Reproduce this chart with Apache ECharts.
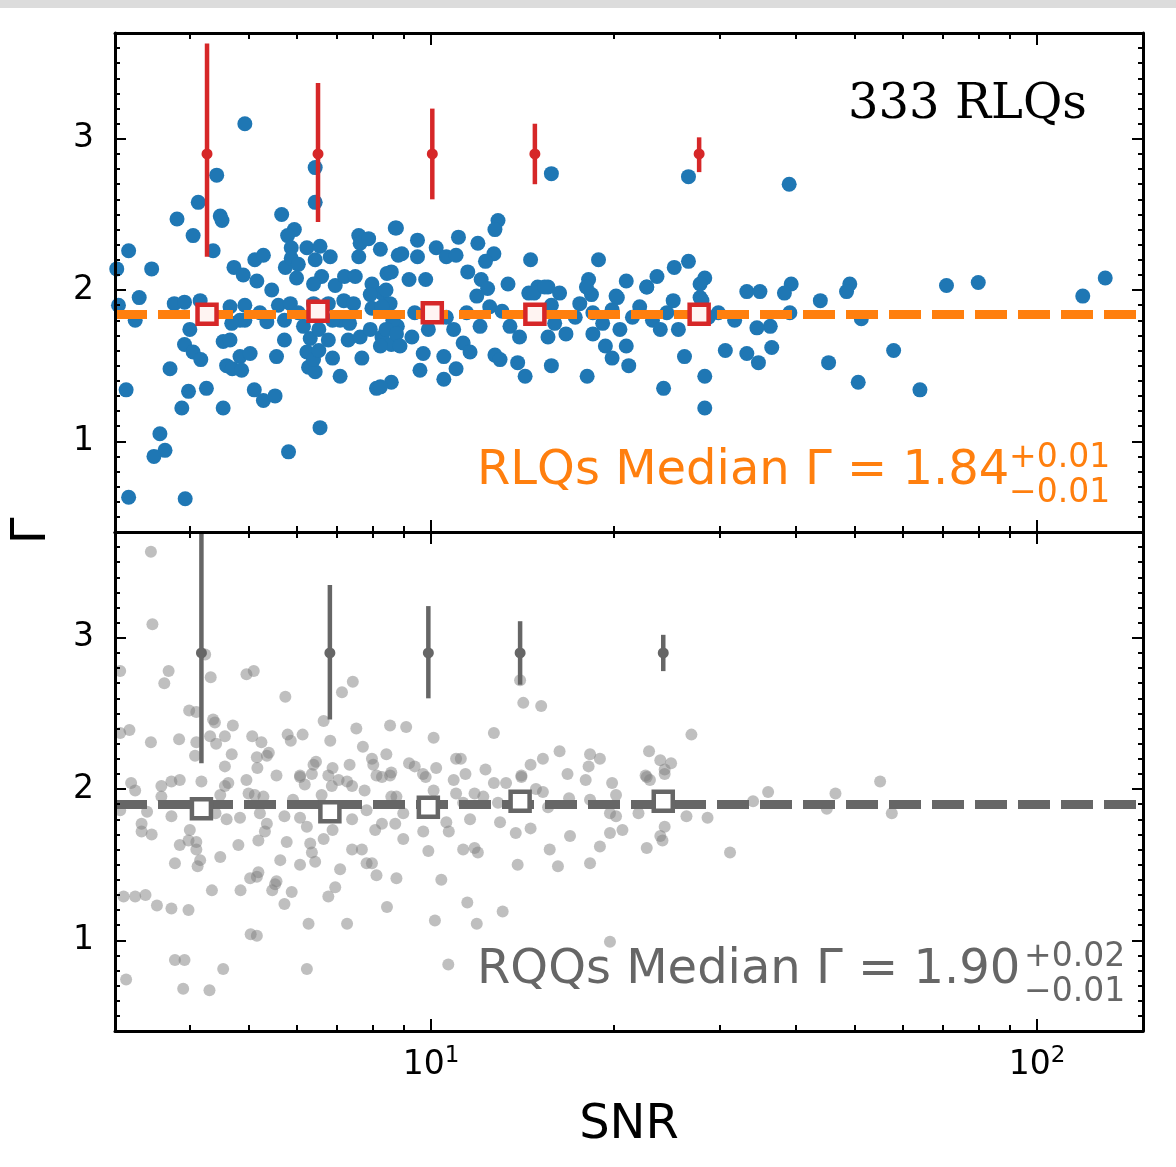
<!DOCTYPE html>
<html><head><meta charset="utf-8">
<script src="https://cdn.jsdelivr.net/npm/echarts@6/dist/echarts.min.js"></script>
<style>html,body{margin:0;padding:0;background:#fff;}#c{width:1176px;height:1167px;}</style>
</head><body><div id="c"></div>
<script>
// ---- RLQs (top panel) ----
const rlqSnr = [4.93,4.43,6.44,6.44,4.13,3.81,4.49,4.52,4.05,5.67,5.95,5.80,4.37,3.17,3.46,3.03,4.73,4.90,5.12,5.29,5.16,5.46,5.75,5.88,5.88,6.04,6.00,6.24,6.44,6.56,6.82,6.60,6.40,6.95,7.20,7.50,7.60,7.64,7.89,7.60,8.25,7.99,8.46,8.73,8.83,8.30,
3.30,3.25,3.05,3.77,3.92,4.16,4.00,3.92,4.05,4.17,3.71,3.14,3.98,4.26,3.88,3.57,3.64,3.49,3.17,3.93,4.54,4.66,4.54,4.66,4.60,4.70,4.84,4.87,4.93,5.03,4.93,5.11,5.29,5.53,5.36,5.56,5.73,5.60,5.86,5.82,6.56,6.16,6.24,6.28,6.44,6.40,6.53,6.32,6.53,6.77,6.88,7.08,7.08,7.30,7.69,7.64,7.99,8.13,8.60,8.30,8.60,8.80,
6.40,6.77,7.18,7.45,7.94,8.56,6.88,7.34,7.94,8.25,6.04,5.73,5.22,4.84,4.69,
15.8,26.6,8.77,9.50,8.95,9.50,10.2,10.6,11.1,11.0,12.9,12.75,12.7,8.60,9.20,9.80,11.5,12.1,12.4,13.4,14.6,14.5,15.0,15.6,16.3,18.2,18.9,21.0,22.7,23.6,25.2,26.6,28.3,33.2,34.9,18.4,20.3,27.8,11.95,12.3,
39.0,39.3,38.3,43.9,49.1,48.5,70.9,80.0,129.6,119.0,
39.1,36.3,36.5,45.3,50.7,51.3,58.0,64.1,
9.71,9.59,10.5,10.5,11.0,8.25,12.75,13.0,13.9,14.3,15.8,15.6,18.1,18.5,19.4,19.9,21.2,21.0,24.2,26.2,28.3,28.3,30.6,33.2,34.7,34.5,29.8,28.0,
8.43,8.30,8.65,8.43,8.77,8.89,9.40,9.30,9.90,10.6,10.9,11.3,11.6,11.45,12.05,11.9,12.5,13.1,13.5,14.0,14.8,15.4,15.8,16.0,16.7,17.3,17.6,18.05,18.5,19.2,19.9,20.2,20.5,21.5,22.1,22.7,23.2,23.9,24.5,25.1,25.6,27.8,28.7,31.7];
const rlqGamma = [3.10,2.76,2.81,2.58,2.58,2.47,2.49,2.46,2.36,2.50,2.40,2.36,2.26,2.26,2.14,2.14,2.15,2.10,2.20,2.23,2.06,2.00,2.15,2.28,2.21,2.17,2.08,2.28,2.20,2.29,2.22,2.09,2.04,2.03,2.09,2.09,2.36,2.31,2.34,2.22,2.27,2.04,2.11,2.41,2.23,1.98,
1.95,1.80,1.90,1.91,1.92,1.93,1.74,1.64,1.59,1.54,1.48,1.34,1.33,1.35,1.22,1.05,0.94,0.90,0.63,0.62,1.22,1.89,1.66,1.67,1.50,1.48,1.56,1.47,1.80,1.58,1.90,1.34,1.27,1.30,1.79,1.56,1.67,1.90,1.91,0.93,1.09,1.76,1.59,1.49,1.46,1.54,1.60,1.68,1.74,1.67,1.55,1.43,1.80,1.67,1.55,1.69,1.88,1.35,1.39,1.69,1.64,1.76,
1.91,1.91,1.93,1.91,1.97,1.91,1.80,1.78,1.74,1.63,1.85,1.80,1.85,1.80,1.78,
2.77,2.75,2.41,2.33,2.24,2.22,2.28,2.22,2.35,2.23,2.46,2.40,2.24,2.12,2.07,2.07,2.12,2.07,2.01,2.04,2.20,1.98,2.02,2.02,1.98,2.07,2.20,2.06,2.02,2.09,2.15,2.19,2.08,1.99,1.99,1.97,1.95,1.95,2.31,2.19,
2.70,2.04,1.98,1.93,2.04,1.99,2.03,2.05,2.08,1.96,
1.85,1.76,1.62,1.52,1.39,1.81,1.60,1.34,
1.58,1.47,1.56,1.41,1.48,1.36,1.57,1.54,1.52,1.43,1.50,1.69,1.43,1.71,1.63,1.55,1.50,1.63,1.35,1.56,1.43,1.22,1.60,1.58,1.52,1.75,1.85,1.93,
2.00,1.89,1.80,1.74,1.71,1.63,1.85,1.69,1.74,1.82,1.74,1.65,1.59,1.85,1.76,1.96,1.89,1.86,1.76,1.69,1.98,2.02,1.90,1.78,1.71,1.82,1.91,2.02,1.85,1.78,1.87,1.96,1.74,1.82,1.89,2.02,1.80,1.74,1.85,1.93,1.74,2.04,1.82,1.80];

// ---- RQQs (bottom panel) ----
const rqqSnr = [3.45,3.47,3.07,3.69,3.63,4.33,4.24,4.96,5.10,5.75,7.13,7.43,6.65,6.82,7.53,8.56,3.99,4.10,4.37,4.40,4.71,3.18,3.07,3.45,3.84,4.32,4.57,4.42,4.10,5.07,5.25,5.80,5.87,6.14,4.08,4.69,5.16,5.40,5.36,4.57,5.17,7.72,8.44,7.99,8.03,7.34,6.40,6.46,5.56,6.08,6.77,6.88,
3.20,3.25,3.07,3.33,3.33,3.46,3.40,3.59,3.59,3.73,3.85,3.73,4.18,4.49,4.57,4.63,4.60,4.41,4.00,3.85,3.98,4.10,4.10,3.78,4.16,4.12,4.49,4.81,4.84,4.96,5.00,5.12,5.29,5.22,5.36,5.32,5.19,5.03,5.16,5.19,4.85,4.35,5.53,5.56,5.47,5.73,5.89,5.64,5.78,5.73,5.92,6.08,6.19,6.36,6.60,6.86,7.04,6.08,6.24,6.32,6.36,6.44,6.08,6.65,6.88,7.08,6.95,6.77,6.28,7.27,6.24,5.04,5.16,3.78,3.92,4.54,3.14,3.90,4.31,3.11,3.25,3.38,3.53,3.73,3.98,7.41,7.41,7.69,7.83,7.99,8.13,8.46,8.77,7.83,8.09,8.30,8.73,8.13,8.56,7.27,7.41,7.77,8.60,
10.15,10.4,11.48,11.9,13.13,10.68,19.74,9.90,11.3,11.8,11.95,13.9,16.2,15.7,18.3,19.0,19.74,20.7,16.96,14.6,13.8,9.00,9.71,10.6,10.7,11.6,13.0,15.3,15.6,16.9,18.3,20.2,20.2,19.74,22.7,22.98,24.3,22.0,22.7,23.9,24.3,24.1,26.4,28.6,31.15,34.0,36.0,8.30,8.77,9.00,9.80,10.1,10.9,11.0,11.3,11.8,12.2,12.7,12.9,13.3,14.1,14.1,14.9,16.8,18.0,19.9,
14.03,14.2,15.2,26.9,9.10,10.1,12.7,9.20,9.40,9.70,10.2,11.0,11.2,11.4,12.3,8.60,14.6,15.3,16.3,18.3,18.2,19.0,22.9,23.9,24.9,24.3,22.6,14.1,
45.0,46.5,55.1,57.6];
const rqqGamma = [3.57,3.09,2.78,2.78,2.70,2.74,2.89,2.76,2.78,2.61,2.64,2.71,2.45,2.32,2.40,2.42,2.52,2.51,2.46,2.44,2.42,2.39,2.37,2.31,2.33,2.35,2.35,2.30,2.31,2.35,2.31,2.36,2.32,2.36,2.22,2.23,2.21,2.24,2.22,2.15,2.14,2.28,2.23,2.20,2.16,2.16,2.16,2.18,2.09,2.09,2.09,2.14,
2.04,1.99,1.86,1.77,1.72,1.70,1.85,2.02,1.95,2.05,2.06,1.82,2.05,1.96,2.02,2.04,1.80,1.84,1.73,1.63,1.66,1.65,1.60,1.51,1.53,1.49,1.55,1.63,1.81,2.06,1.97,1.96,1.95,1.84,1.77,1.72,1.66,1.41,1.42,1.45,1.33,1.33,1.37,1.39,1.33,1.24,1.32,1.53,1.65,1.82,1.93,2.08,2.03,2.10,1.96,2.02,2.06,1.81,1.75,1.64,1.58,1.52,1.50,1.67,1.73,1.47,1.35,1.29,1.11,1.11,0.81,1.04,1.03,0.87,0.87,0.81,0.74,0.68,0.67,1.29,1.29,1.30,1.23,1.21,1.20,1.80,1.60,1.60,1.51,1.51,1.43,1.22,1.41,1.86,1.73,1.77,1.77,2.09,2.09,2.05,2.02,1.99,1.95,
1.13,1.40,1.25,1.11,1.19,0.84,0.99,1.59,1.60,1.61,1.58,1.50,1.49,1.60,1.51,1.62,1.71,1.73,1.69,1.74,1.71,1.67,1.72,1.78,1.72,1.80,1.78,1.98,1.88,1.94,1.93,1.96,1.82,1.84,2.08,2.06,2.10,1.84,1.61,1.69,1.75,1.66,1.82,1.81,1.58,1.92,1.98,2.08,1.95,1.84,2.08,1.99,2.06,1.97,1.91,1.97,1.95,2.04,1.91,2.04,2.08,1.91,2.00,2.10,2.06,2.04,
2.72,2.57,2.55,2.36,2.41,2.34,2.37,2.17,2.15,2.10,2.14,2.20,2.20,2.10,2.13,2.11,2.16,2.20,2.25,2.23,2.15,2.20,2.25,2.19,2.17,2.13,2.09,2.09,
1.87,1.97,2.05,1.84];

// ---- binned medians and error bars ----
const rlqBinSnr = [4.27, 6.51, 10.05, 14.84, 27.7];
const rlqBinMedian = [1.84, 1.86, 1.85, 1.84, 1.84];
const rlqErrCenter = [2.9, 2.9, 2.9, 2.9, 2.9];
const rlqErrLow = [2.22, 2.45, 2.60, 2.70, 2.78];
const rlqErrHigh = [3.63, 3.37, 3.20, 3.10, 3.01];
const rqqBinSnr = [4.18, 6.81, 9.90, 14.03, 24.17];
const rqqBinMedian = [1.87, 1.85, 1.88, 1.92, 1.92];
const rqqErrCenter = [2.9, 2.9, 2.9, 2.9, 2.9];
const rqqErrLow = [2.17, 2.46, 2.60, 2.69, 2.78];
const rqqErrHigh = [3.70, 3.35, 3.21, 3.11, 3.02];
const rlqMedian = 1.84;
const rqqMedian = 1.90;

// ---- axes ----
const xMin = 3.01, xMax = 149.6, yMin = 0.4, yMax = 3.7;
const xTickMajor = [10, 100];
const xTickExp = ['1', '2'];
const xTickMinor = [3,4,5,6,7,8,9,20,30,40,50,60,70,80,90];
const yTickMajor = [1, 2, 3];
const yTickMinor = [0.5,0.6,0.7,0.8,0.9,1.1,1.2,1.3,1.4,1.5,1.6,1.7,1.8,1.9,2.1,2.2,2.3,2.4,2.5,2.6,2.7,2.8,2.9,3.1,3.2,3.3,3.4,3.5,3.6];

const FONT = 'DejaVu Sans';
const zip = (a, b) => a.map((v, i) => [v, b[i]]);

function xAx(grid, pos, major, withLabel) {
  return {
    type: 'log', logBase: 10, gridIndex: grid, position: pos, min: xMin, max: xMax, z: 10,
    axisLine: { show: major, onZero: false, lineStyle: { color: '#000', width: 3 } },
    splitLine: { show: false }, minorTick: { show: false }, minorSplitLine: { show: false },
    axisTick: { show: true, inside: true, length: major ? 12 : 6, customValues: major ? xTickMajor : xTickMinor,
      lineStyle: { color: '#000', width: 2 } },
    axisLabel: withLabel ? {
      show: true, customValues: xTickMajor, margin: 14, color: '#000', fontFamily: FONT,
      formatter: function (v) { const i = xTickMajor.indexOf(Math.round(v)); return '{b|10}{s|' + xTickExp[i] + '}'; },
      rich: { b: { fontSize: 33, fontFamily: FONT, color: '#000', lineHeight: 40 },
              s: { fontSize: 23, fontFamily: FONT, color: '#000', verticalAlign: 'top' } }
    } : { show: false }
  };
}
function yAx(grid, pos, major, withLabel) {
  return {
    type: 'value', gridIndex: grid, position: pos, min: yMin, max: yMax, z: 10,
    axisLine: { show: major, onZero: false, lineStyle: { color: '#000', width: 3 } },
    splitLine: { show: false }, minorTick: { show: false },
    axisTick: { show: true, inside: true, length: major ? 11 : 5, customValues: major ? yTickMajor : yTickMinor,
      lineStyle: { color: '#000', width: 2 } },
    axisLabel: withLabel ? { show: true, customValues: yTickMajor, margin: 21, fontSize: 33, fontFamily: FONT,
      color: '#000', padding: [10, 0, 0, 0] } : { show: false }
  };
}

const xAxis = [
  xAx(0, 'bottom', true, false), xAx(0, 'bottom', false, false), xAx(0, 'top', true, false), xAx(0, 'top', false, false),
  xAx(1, 'bottom', true, true), xAx(1, 'bottom', false, false), xAx(1, 'top', true, false), xAx(1, 'top', false, false)
];
const yAxis = [
  yAx(0, 'left', true, true), yAx(0, 'left', false, false), yAx(0, 'right', true, false), yAx(0, 'right', false, false),
  yAx(1, 'left', true, true), yAx(1, 'left', false, false), yAx(1, 'right', true, false), yAx(1, 'right', false, false)
];

function errSeries(xi, yi, snr, c, lo, hi, color) {
  return {
    type: 'custom', xAxisIndex: xi, yAxisIndex: yi, z: 6, silent: true,
    encode: { x: 0, y: [1, 2, 3] },
    data: snr.map((s, i) => [s, c[i], lo[i], hi[i]]),
    renderItem: function (params, api) {
      const x = api.value(0);
      const p1 = api.coord([x, api.value(2)]);
      const p2 = api.coord([x, api.value(3)]);
      const pc = api.coord([x, api.value(1)]);
      return { type: 'group', children: [
        { type: 'line', shape: { x1: p1[0], y1: p1[1], x2: p2[0], y2: p2[1] }, style: { stroke: color, lineWidth: 4.5 } },
        { type: 'circle', shape: { cx: pc[0], cy: pc[1], r: 5.5 }, style: { fill: color } }
      ] };
    }
  };
}

const series = [
  { type: 'scatter', xAxisIndex: 0, yAxisIndex: 0, z: 2, silent: true, symbolSize: 15,
    itemStyle: { color: '#1f77b4', opacity: 1 }, data: zip(rlqSnr, rlqGamma),
    markLine: { silent: true, symbol: 'none', z: 4, label: { show: false }, animation: false,
      lineStyle: { color: '#ff7f0e', width: 9, type: [32, 11], opacity: 1 },
      emphasis: { disabled: true }, data: [{ yAxis: rlqMedian }] } },
  errSeries(0, 0, rlqBinSnr, rlqErrCenter, rlqErrLow, rlqErrHigh, '#d62728'),
  { type: 'scatter', xAxisIndex: 0, yAxisIndex: 0, z: 7, silent: true, symbol: 'rect', symbolSize: 19,
    itemStyle: { color: '#fff4f2', borderColor: '#d62728', borderWidth: 4.5, opacity: 1 },
    data: zip(rlqBinSnr, rlqBinMedian) },

  { type: 'scatter', xAxisIndex: 4, yAxisIndex: 4, z: 2, silent: true, symbolSize: 12,
    itemStyle: { color: '#808080', opacity: 0.5 }, data: zip(rqqSnr, rqqGamma),
    markLine: { silent: true, symbol: 'none', z: 4, label: { show: false }, animation: false,
      lineStyle: { color: '#666666', width: 9, type: [32, 11], opacity: 1 },
      emphasis: { disabled: true }, data: [{ yAxis: rqqMedian }] } },
  errSeries(4, 4, rqqBinSnr, rqqErrCenter, rqqErrLow, rqqErrHigh, '#666666'),
  { type: 'scatter', xAxisIndex: 4, yAxisIndex: 4, z: 7, silent: true, symbol: 'rect', symbolSize: 19,
    itemStyle: { color: '#ffffff', borderColor: '#666666', borderWidth: 4.5, opacity: 1 },
    data: zip(rqqBinSnr, rqqBinMedian) }
];

const graphic = [
  { type: 'rect', shape: { x: 0, y: 0, width: 1176, height: 8 }, style: { fill: '#dcdcdc' }, silent: true },
  { type: 'text', x: 848, y: 106, silent: true, z: 20,
    style: { text: '333 RLQs', font: '48px "DejaVu Serif"', fill: '#000', textAlign: 'left', textVerticalAlign: 'middle' } },
  { type: 'text', x: 477, y: 472, silent: true, z: 20,
    style: { text: 'RLQs Median Γ = 1.84', font: '48px "DejaVu Sans"', fill: '#ff7f0e', textAlign: 'left', textVerticalAlign: 'middle' } },
  { type: 'text', x: 1009, y: 458, silent: true, z: 20,
    style: { text: '+0.01', font: '33px "DejaVu Sans"', fill: '#ff7f0e', textAlign: 'left', textVerticalAlign: 'middle' } },
  { type: 'text', x: 1009, y: 493, silent: true, z: 20,
    style: { text: '\u22120.01', font: '33px "DejaVu Sans"', fill: '#ff7f0e', textAlign: 'left', textVerticalAlign: 'middle' } },
  { type: 'text', x: 477, y: 971, silent: true, z: 20,
    style: { text: 'RQQs Median Γ = 1.90', font: '48px "DejaVu Sans"', fill: '#666666', textAlign: 'left', textVerticalAlign: 'middle' } },
  { type: 'text', x: 1024, y: 957, silent: true, z: 20,
    style: { text: '+0.02', font: '33px "DejaVu Sans"', fill: '#666666', textAlign: 'left', textVerticalAlign: 'middle' } },
  { type: 'text', x: 1024, y: 992, silent: true, z: 20,
    style: { text: '\u22120.01', font: '33px "DejaVu Sans"', fill: '#666666', textAlign: 'left', textVerticalAlign: 'middle' } },
  { type: 'text', x: 629, y: 1126, silent: true, z: 20,
    style: { text: 'SNR', font: '48px "DejaVu Sans"', fill: '#000', textAlign: 'center', textVerticalAlign: 'middle' } },
  { type: 'text', x: 33, y: 531, rotation: Math.PI / 2, silent: true, z: 20,
    style: { text: 'Γ', font: '48px "DejaVu Sans"', fill: '#000', textAlign: 'center', textVerticalAlign: 'middle' } }
];

const chart = echarts.init(document.getElementById('c'), null, { renderer: 'canvas', width: 1176, height: 1167 });
chart.setOption({
  animation: false,
  backgroundColor: '#ffffff',
  grid: [
    { left: 115, top: 33, width: 1028, height: 499, show: false, containLabel: false, outerBoundsMode: 'none' },
    { left: 115, top: 532, width: 1028, height: 499, show: false, containLabel: false, outerBoundsMode: 'none' }
  ],
  xAxis: xAxis,
  yAxis: yAxis,
  series: series,
  graphic: graphic
});
</script></body></html>
